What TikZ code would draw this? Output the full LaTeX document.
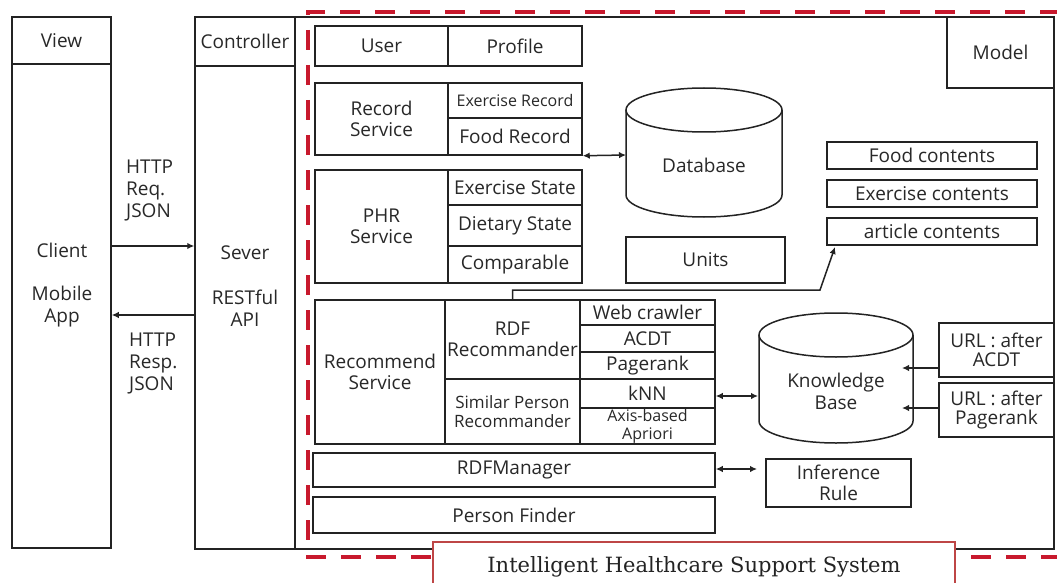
\documentclass[tikz,border=0pt]{standalone}
\usepackage{fontspec}
\setmainfont{Open Sans}
\newfontfamily\titlefont{DejaVu Serif}
\usetikzlibrary{arrows.meta}
\definecolor{dashred}{RGB}{200,25,45}
\definecolor{titlered}{RGB}{190,70,70}
\definecolor{ink}{RGB}{35,35,35}
\definecolor{txt}{RGB}{40,40,40}
\tikzset{
  box/.style={draw=ink, line width=1.5pt, inner sep=0pt, text=txt, align=center,
    font=\fontsize{19}{21.5}\selectfont},
  lbl/.style={inner sep=0pt, text=txt, align=center, font=\fontsize{19}{22}\selectfont},
  small/.style={font=\fontsize{16}{19}\selectfont},
  cylline/.style={draw=ink, line width=1.5pt},
  conn/.style={draw=ink, line width=1.5pt, -{Latex[length=7pt,width=6.5pt]}},
  dconn/.style={draw=ink, line width=1.5pt, {Latex[length=7pt,width=6.5pt]}-{Latex[length=7pt,width=6.5pt]}},
  reddash/.style={draw=dashred, line width=4pt, dash pattern=on 20pt off 15pt},
  titlebox/.style={draw=titlered, line width=2pt, fill=white, text=ink,
    font=\titlefont\fontsize{21}{24}\selectfont}
}
\newcommand\bx[7][]{\node[box,#1,minimum width={#5-#3},minimum height={#6-#4}] (#2) at ({(#3+#5)/2},{(#4+#6)/2}) {#7};}
\begin{document}
\begin{tikzpicture}[x=1pt,y=-1pt]
\useasboundingbox[fill=white] (0,0) rectangle (1057,583);

% red dashed frame
\draw[reddash] (1060,12) -- (308,12) -- (308,557) -- (1060,557);

% View
\bx{viewhead}{12}{17}{111}{64}{View}
\bx{viewbody}{12}{64}{111}{548}{}
\node[lbl] (client) at (62,250) {Client};
\node[lbl] (mobile) at (62,307) {Mobile\\App};

% Controller
\bx{ctrlhead}{195}{17}{295}{66}{Controller}
\bx{ctrlbody}{195}{66}{295}{549}{}
\node[lbl] (sever) at (245,253) {Sever};
\node[lbl] (rest) at (245,308) {RESTful\\API};

% HTTP arrows
\coordinate (reqy) at (0,246);
\coordinate (respy) at (0,315);
\draw[conn] (viewbody.east |- reqy) -- (ctrlbody.west |- reqy);
\draw[conn] (ctrlbody.west |- respy) -- (viewbody.east |- respy);
\node[lbl, align=left, anchor=north west] (req) at (126,160) {HTTP\\Req.\\JSON};
\node[lbl, align=left, anchor=north west] (resp) at (129,333) {HTTP\\Resp.\\JSON};

% Model frame
\bx{model}{295}{17}{1054}{549}{}
\bx{modellbl}{947}{17}{1054}{88}{Model}

\bx{user}{315}{26}{448}{66}{User}
\bx{profile}{448}{26}{582}{66}{Profile}

\bx{recsvc}{315}{83}{448}{155}{Record\\Service}
\bx[small]{exrec}{448}{83}{582}{118}{Exercise Record}
\bx{foodrec}{448}{118}{582}{155}{Food Record}

\bx{phr}{315}{170}{448}{283}{PHR\\Service}
\bx{exstate}{448}{170}{582}{205}{Exercise State}
\bx{dietstate}{448}{205}{582}{246}{Dietary State}
\bx{comparable}{448}{246}{582}{283}{Comparable}

% Database cylinder
\draw[cylline] (626,110) -- (626,195) arc[start angle=180, end angle=0, x radius=78, y radius=22] -- (782,110);
\draw[cylline] (704,110) ellipse[x radius=78, y radius=22];
\node[lbl] (db) at (704,165) {Database};
\coordinate (dbL) at (626,155);
\draw[dconn] (foodrec.south east) -- (dbL);

\bx{units}{626}{237}{785}{283}{Units}

\bx{foodc}{827}{142}{1037}{169}{Food contents}
\bx{exc}{827}{180}{1037}{207}{Exercise contents}
\bx{artc}{827}{218}{1037}{245}{article contents}

% Recommend
\bx{recom}{315}{300}{445}{444}{Recommend\\Service}
\bx{rdfrec}{445}{300}{580}{379}{RDF\\Recommander}
\bx[font=\fontsize{17}{19}\selectfont]{simrec}{445}{379}{580}{444}{Similar Person\\Recommander}
\bx{web}{580}{300}{715}{325}{Web crawler}
\bx{acdt}{580}{325}{715}{352}{ACDT}
\bx{pagerank}{580}{352}{715}{379}{Pagerank}
\bx{knn}{580}{379}{715}{408}{kNN}
\bx[font=\fontsize{16}{18}\selectfont]{axis}{580}{408}{715}{444}{Axis-based\\Apriori}

\coordinate (bend) at (820,290);
\coordinate (artin) at (835,247);
\draw[conn] (rdfrec.north) |- (bend) -- (artin);

\bx{rdfm}{313}{453}{715}{487}{RDFManager}
\bx{pfind}{313}{497}{715}{533}{Person Finder}

% Knowledge base cylinder
\draw[cylline] (759,335) -- (759,421) arc[start angle=180, end angle=0, x radius=77, y radius=22] -- (913,335);
\draw[cylline] (836,335) ellipse[x radius=77, y radius=22];
\node[lbl] (kb) at (836,391) {Knowledge\\Base};
\coordinate (kbL) at (758,396);
\draw[dconn] (knn.east |- kbL) -- (kbL);

\bx[font=\fontsize{19}{18.5}\selectfont]{url1}{939}{323}{1054}{377}{URL : after\\ACDT}
\bx[font=\fontsize{19}{18.5}\selectfont]{url2}{939}{383}{1054}{437}{URL : after\\Pagerank}
\coordinate (kbR1) at (902,368);
\coordinate (kbR2) at (902,408);
\draw[conn] (url1.west |- kbR1) -- (kbR1);
\draw[conn] (url2.west |- kbR2) -- (kbR2);

\bx{infer}{766}{459}{911}{507}{Inference\\Rule}
\coordinate (infL) at (757,469);
\draw[dconn] (rdfm.east |- infL) -- (infL);

% Title
\bx[titlebox]{title}{433}{542}{955}{592}{Intelligent Healthcare Support System}
\end{tikzpicture}
\end{document}
